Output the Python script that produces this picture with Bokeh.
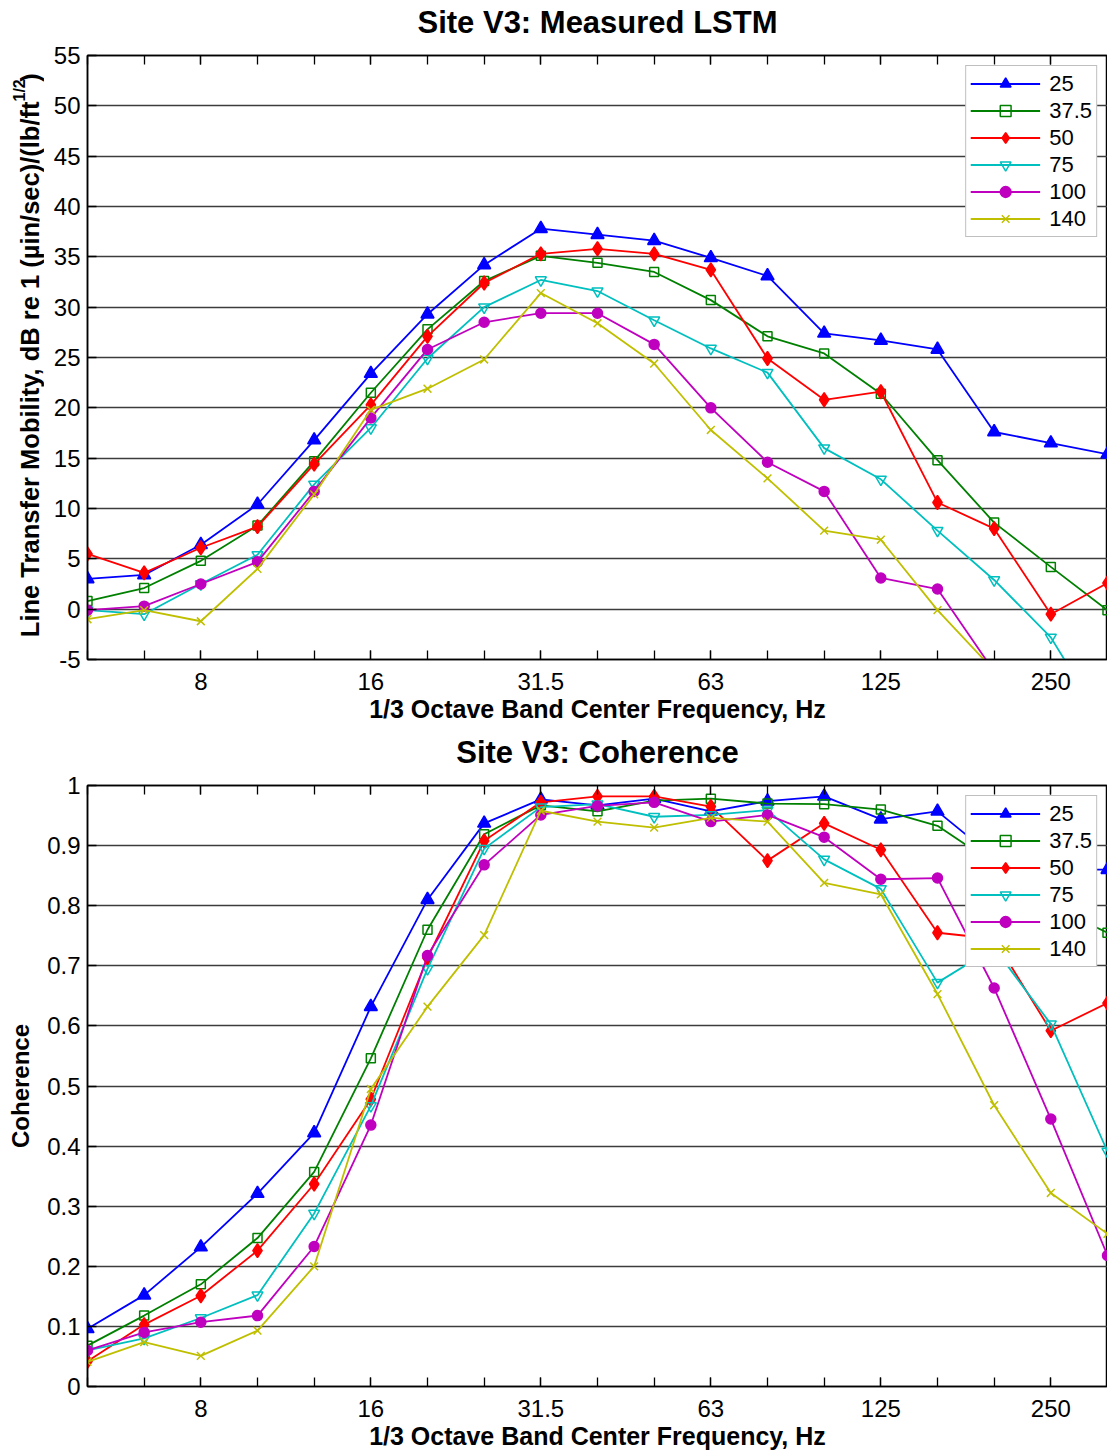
import numpy as np
from bokeh.plotting import figure
from bokeh.models import Range1d, FixedTicker, LinearAxis, Label, NumeralTickFormatter
from bokeh.layouts import column, row
from bokeh.embed import file_html
from bokeh.resources import INLINE

# ---------------- data ----------------
bands = ["5", "6.3", "8", "10", "12.5", "16", "20", "25", "31.5", "40",
         "50", "63", "80", "100", "125", "160", "200", "250", "315"]
x_tick_labels = ["8", "16", "31.5", "63", "125", "250"]
series_names = ["25", "37.5", "50", "75", "100", "140"]

lstm_25 = [3.0, 3.4, 6.4, 10.4, 16.8, 23.4, 29.3, 34.2, 37.8, 37.2, 36.6, 34.9, 33.1, 27.4, 26.7, 25.8, 17.6, 16.5, 15.4]
lstm_37_5 = [0.8, 2.1, 4.8, 8.3, 14.7, 21.5, 27.8, 32.6, 35.1, 34.4, 33.5, 30.7, 27.1, 25.4, 21.4, 14.8, 8.6, 4.2, -0.1]
lstm_50 = [5.5, 3.6, 6.1, 8.2, 14.4, 20.3, 27.1, 32.4, 35.3, 35.8, 35.3, 33.7, 24.9, 20.8, 21.6, 10.6, 8.0, -0.5, 2.6]
lstm_75 = [-0.1, -0.5, 2.5, 5.4, 12.4, 18.0, 24.9, 30.0, 32.7, 31.6, 28.7, 25.9, 23.5, 16.0, 12.9, 7.8, 2.9, -2.8, -12.0]
lstm_100 = [-0.1, 0.3, 2.5, 4.7, 11.7, 19.0, 25.8, 28.5, 29.4, 29.4, 26.3, 20.0, 14.6, 11.7, 3.1, 2.0, -6.2, -10.0, -12.0]
lstm_140 = [-1.0, -0.1, -1.2, 4.0, 11.4, 19.8, 21.9, 24.8, 31.4, 28.4, 24.4, 17.8, 13.0, 7.8, 6.9, -0.1, -6.1, -10.0, -12.0]

coh_25 = [0.096, 0.152, 0.232, 0.321, 0.422, 0.632, 0.810, 0.937, 0.977, 0.967, 0.978, 0.957, 0.974, 0.982, 0.944, 0.957, 0.880, 0.860, 0.860]
coh_37_5 = [0.068, 0.118, 0.170, 0.247, 0.357, 0.546, 0.760, 0.919, 0.967, 0.957, 0.975, 0.978, 0.970, 0.969, 0.960, 0.933, 0.870, 0.800, 0.755]
coh_50 = [0.042, 0.103, 0.151, 0.226, 0.337, 0.478, 0.713, 0.908, 0.972, 0.982, 0.982, 0.965, 0.875, 0.937, 0.893, 0.755, 0.745, 0.592, 0.638]
coh_75 = [0.060, 0.080, 0.114, 0.152, 0.288, 0.467, 0.695, 0.895, 0.964, 0.969, 0.948, 0.951, 0.959, 0.877, 0.828, 0.672, 0.730, 0.603, 0.391]
coh_100 = [0.060, 0.090, 0.107, 0.118, 0.233, 0.435, 0.717, 0.868, 0.951, 0.966, 0.972, 0.940, 0.951, 0.914, 0.844, 0.846, 0.663, 0.445, 0.218]
coh_140 = [0.041, 0.074, 0.051, 0.093, 0.200, 0.495, 0.632, 0.751, 0.958, 0.940, 0.930, 0.946, 0.940, 0.838, 0.819, 0.653, 0.468, 0.322, 0.254]

y1_ticks = [-5, 0, 5, 10, 15, 20, 25, 30, 35, 40, 45, 50, 55]
y2_ticks = [0, 0.1, 0.2, 0.3, 0.4, 0.5, 0.6, 0.7, 0.8, 0.9, 1.0]

lstm_series = [lstm_25, lstm_37_5, lstm_50, lstm_75, lstm_100, lstm_140]
coh_series = [coh_25, coh_37_5, coh_50, coh_75, coh_100, coh_140]

# ---------------- styles ----------------
FONT = "Liberation Sans"
colors = ["#0000FF", "#008000", "#FF0000", "#00BFBF", "#BF00BF", "#BFBF00"]
markers = ["triangle", "square", "diamond", "inverted_triangle", "circle", "x"]
msizes = [13, 9, 14, 11, 10, 11]
filled = [True, False, True, False, True, False]

x = list(range(len(bands)))
Y1 = (-5, 55)
LABEL_W = 44
PAGE_W = 1107
FRAME_LEFT = 87
TITLE_H = 40


def title_fig(text):
    """A thin strip holding the chart title as real text, centred over the plot frame."""
    t = figure(width=PAGE_W, height=TITLE_H, output_backend="svg", toolbar_location=None,
               x_range=Range1d(0, len(bands) - 1), y_range=Range1d(0, TITLE_H),
               x_axis_type=None, y_axis_type=None, title=None,
               min_border_left=FRAME_LEFT, min_border_right=0, min_border_top=0,
               min_border_bottom=0)
    t.outline_line_color = None
    t.grid.visible = False
    t.add_layout(Label(x=(len(bands) - 1) / 2, y=TITLE_H - 22, text=text,
                       text_align="center", text_baseline="middle", text_font=FONT,
                       text_font_size="31px", text_font_style="bold", text_color="black"))
    return t


def make_fig(ylabel, yr, yticks, series, width, height, left, top, bottom):
    p = figure(width=width, height=height, output_backend="svg", toolbar_location=None,
               x_range=Range1d(0, len(bands) - 1), y_range=Range1d(*yr), title=None,
               min_border_left=left, min_border_right=0, min_border_top=top,
               min_border_bottom=bottom)

    bx = p.below[0]
    xt = FixedTicker(ticks=[bands.index(l) for l in x_tick_labels], minor_ticks=x)
    bx.ticker = xt
    bx.major_label_overrides = {bands.index(l): l for l in x_tick_labels}
    top_ax = LinearAxis(ticker=xt, major_label_text_font_size="0px", major_label_standoff=0,
                        major_label_overrides={i: "" for i in x})
    p.add_layout(top_ax, "above")
    for ax in [bx, top_ax]:
        ax.major_tick_in = 9
        ax.major_tick_out = 0
        ax.minor_tick_in = 9
        ax.minor_tick_out = 0
        ax.major_tick_line_color = "black"
        ax.minor_tick_line_color = "black"
        ax.major_tick_line_width = 1.3
        ax.minor_tick_line_width = 1.3
        ax.axis_line_color = "black"
        ax.axis_line_width = 1.5
    bx.major_label_text_font = FONT
    bx.major_label_text_font_size = "24px"
    bx.major_label_text_color = "black"
    bx.major_label_standoff = 13
    bx.axis_label = "1/3 Octave Band Center Frequency, Hz"
    bx.axis_label_text_font = FONT
    bx.axis_label_text_font_size = "25px"
    bx.axis_label_text_font_style = "bold"
    bx.axis_label_text_color = "black"
    bx.axis_label_standoff = 2

    ya = p.left[0]
    ya.ticker = FixedTicker(ticks=yticks)
    ya.formatter = NumeralTickFormatter(format="0.[0]")
    ya.major_tick_in = 9
    ya.major_tick_out = 0
    ya.minor_tick_line_color = None
    ya.major_tick_line_color = "black"
    ya.major_tick_line_width = 1.3
    ya.axis_line_color = "black"
    ya.axis_line_width = 1.5
    ya.major_label_text_font = FONT
    ya.major_label_text_font_size = "24px"
    ya.major_label_text_color = "black"
    ya.major_label_standoff = 7
    if ylabel:
        ya.axis_label = ylabel
        ya.axis_label_text_font = FONT
        ya.axis_label_text_font_size = "24px"
        ya.axis_label_text_font_style = "bold"
        ya.axis_label_text_color = "black"
        ya.axis_label_standoff = 10

    p.xgrid.visible = False
    p.ygrid.grid_line_color = "#3c3c3c"
    p.ygrid.grid_line_width = 1.4
    p.outline_line_color = "black"
    p.outline_line_width = 1.5

    for ys, c, m, s, f, name in zip(series, colors, markers, msizes, filled, series_names):
        p.line(x, ys, line_color=c, line_width=1.8, legend_label=name)
        p.scatter(x, ys, marker=m, size=s, line_color=c, line_width=1.5,
                  fill_color=(c if f else None), legend_label=name)

    lg = p.legend[0]
    lg.location = "top_right"
    lg.margin = 10
    lg.padding = 4
    lg.spacing = 0
    lg.glyph_width = 70
    lg.glyph_height = 27
    lg.label_height = 27
    lg.label_standoff = 9
    lg.label_text_font = FONT
    lg.label_text_font_size = "22px"
    lg.label_text_color = "black"
    lg.border_line_color = "#7f7f7f"
    lg.border_line_width = 1
    lg.background_fill_alpha = 1.0
    return p


H1, T1, B1 = 690, 15, 71
p1 = make_fig(None, Y1, y1_ticks, lstm_series,
              PAGE_W - LABEL_W, H1, FRAME_LEFT - LABEL_W, T1, B1)

# narrow panel holding the top y-axis title (with its superscript) as real text
lab = figure(width=LABEL_W, height=H1, output_backend="svg", toolbar_location=None,
             x_range=Range1d(0, LABEL_W), y_range=Range1d(*Y1),
             x_axis_type=None, y_axis_type=None, title=None,
             min_border_left=0, min_border_right=0, min_border_top=T1, min_border_bottom=B1)
lab.outline_line_color = None
lab.grid.visible = False
lab_kw = dict(angle=90, angle_units="deg", text_baseline="middle", text_font=FONT,
              text_font_style="bold", text_color="black")
lab.add_layout(Label(x=29, y=50.43, text="Line Transfer Mobility, dB re 1 (µin/sec)/(lb/ft",
                     text_align="right", text_font_size="25.5px", **lab_kw))
lab.add_layout(Label(x=19, y=50.43, text="1/2", text_align="left", text_font_size="16px", **lab_kw))
lab.add_layout(Label(x=29, y=52.4, text=")", text_align="left", text_font_size="25.5px", **lab_kw))

p2 = make_fig("Coherence", (0, 1), y2_ticks, coh_series,
              PAGE_W, 686, FRAME_LEFT, 15, 70)

layout = column(title_fig("Site V3: Measured LSTM"), row(lab, p1),
                title_fig("Site V3: Coherence"), p2)
open("out.html", "w").write(file_html(layout, INLINE))
